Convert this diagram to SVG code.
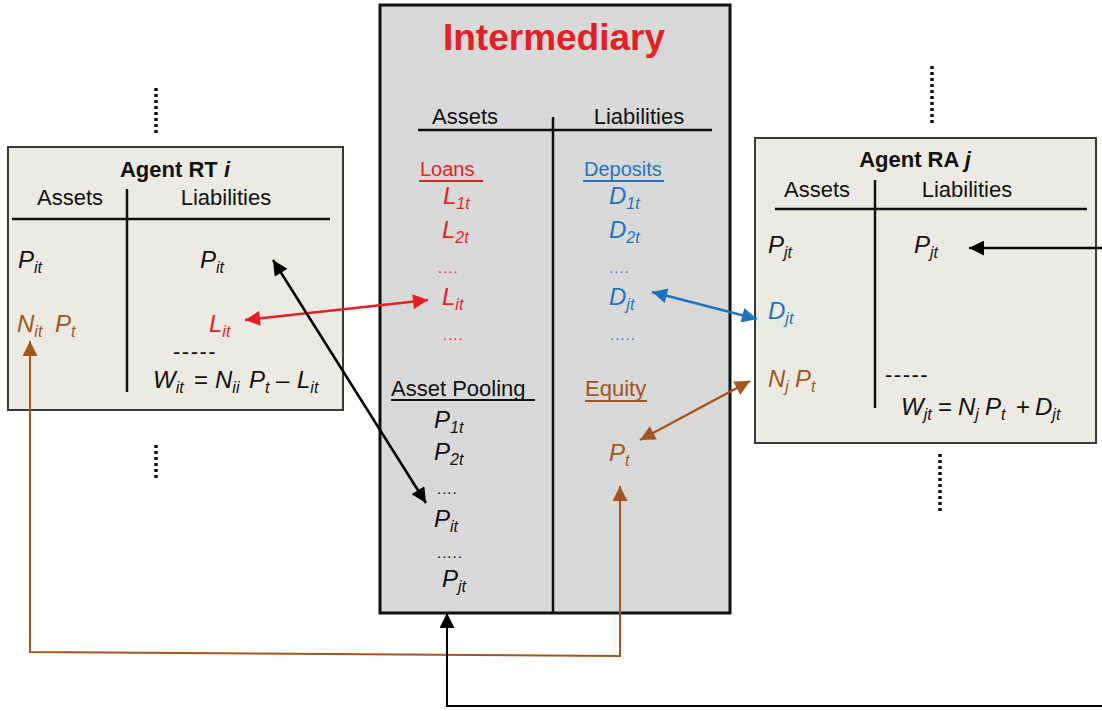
<svg xmlns="http://www.w3.org/2000/svg" width="1102" height="711" viewBox="0 0 1102 711">
<style>
text{font-family:"Liberation Sans",Arial,Helvetica,sans-serif;}
.h{font-size:22px;fill:#111;}
.hb{font-size:22px;font-weight:bold;fill:#111;}
.v{font-size:24px;font-style:italic;fill:#111;}
.s{font-size:16px;}
.red{fill:#e41f26;}
.blue{fill:#1f74bf;}
.org{fill:#a3561f;}
.dots{font-size:15px;letter-spacing:1px;}
.dash{font-size:22px;letter-spacing:1.5px;fill:#111;}
.box{fill:#ecebe3;stroke:#3a3a3a;stroke-width:2;}
.ibox{fill:#d9d9d9;stroke:#111;stroke-width:3;}
.rule{stroke:#111;stroke-width:2.5;fill:none;}
.dot{stroke:#111;stroke-width:3.5;stroke-dasharray:3 3;fill:none;}
</style>
<defs>
<marker id="mk" viewBox="0 0 10 10" refX="10" refY="5" markerWidth="18" markerHeight="15" markerUnits="userSpaceOnUse" orient="auto-start-reverse"><path d="M0,0L10,5L0,10z" fill="#000"/></marker>
<marker id="mr" viewBox="0 0 10 10" refX="10" refY="5" markerWidth="18" markerHeight="15" markerUnits="userSpaceOnUse" orient="auto-start-reverse"><path d="M0,0L10,5L0,10z" fill="#e41f26"/></marker>
<marker id="mb" viewBox="0 0 10 10" refX="10" refY="5" markerWidth="18" markerHeight="15" markerUnits="userSpaceOnUse" orient="auto-start-reverse"><path d="M0,0L10,5L0,10z" fill="#1f74bf"/></marker>
<marker id="mo" viewBox="0 0 10 10" refX="10" refY="5" markerWidth="18" markerHeight="15" markerUnits="userSpaceOnUse" orient="auto-start-reverse"><path d="M0,0L10,5L0,10z" fill="#a3561f"/></marker>
</defs>
<rect width="1102" height="711" fill="#fff"/>

<!-- dotted continuation marks -->
<g id="dots-marks">
<line class="dot" x1="156" y1="88" x2="156" y2="133"/>
<line class="dot" x1="156" y1="445" x2="156" y2="480"/>
<line class="dot" x1="932" y1="66" x2="932" y2="123"/>
<line class="dot" x1="940" y1="454" x2="940" y2="511"/>
</g>

<!-- Intermediary -->
<g id="intermediary">
<rect class="ibox" x="380" y="5" width="350" height="608"/>
<text x="554" y="50" text-anchor="middle" style="font-size:37px;font-weight:bold;fill:#e41f26">Intermediary</text>
<text class="h" x="465" y="124" text-anchor="middle">Assets</text>
<text class="h" x="639" y="124" text-anchor="middle">Liabilities</text>
<line class="rule" x1="418" y1="130" x2="712" y2="130"/>
<line class="rule" x1="553" y1="117" x2="553" y2="613"/>
<text class="h red" x="420" y="176" style="font-size:20px">Loans</text>
<line x1="419" y1="181" x2="483" y2="181" stroke="#e41f26" stroke-width="2"/>
<text class="h blue" x="584" y="176" style="font-size:20px">Deposits</text>
<line x1="583" y1="181" x2="664" y2="181" stroke="#1f74bf" stroke-width="2"/>
<text class="v red" x="443" y="204">L<tspan class="s" dy="5">1t</tspan></text>
<text class="v red" x="442" y="238">L<tspan class="s" dy="5">2t</tspan></text>
<text class="dots red" x="438" y="273">....</text>
<text class="v red" x="442" y="305">L<tspan class="s" dy="5">it</tspan></text>
<text class="dots red" x="443" y="340">....</text>
<text class="v blue" x="609" y="204">D<tspan class="s" dy="5">1t</tspan></text>
<text class="v blue" x="609" y="238">D<tspan class="s" dy="5">2t</tspan></text>
<text class="dots blue" x="609" y="273">....</text>
<text class="v blue" x="609" y="305">D<tspan class="s" dy="5">jt</tspan></text>
<text class="dots blue" x="610" y="340">.....</text>
<text class="h" x="391" y="396">Asset Pooling</text>
<line x1="391" y1="400" x2="535" y2="400" stroke="#111" stroke-width="2"/>
<text class="h org" x="585" y="396">Equity</text>
<line x1="585" y1="401" x2="647" y2="401" stroke="#a3561f" stroke-width="2"/>
<text class="v" x="434" y="428">P<tspan class="s" dy="5">1t</tspan></text>
<text class="v" x="434" y="460">P<tspan class="s" dy="5">2t</tspan></text>
<text class="dots" x="437" y="494">....</text>
<text class="v" x="434" y="527">P<tspan class="s" dy="5">it</tspan></text>
<text class="dots" x="437" y="558">.....</text>
<text class="v" x="442" y="587">P<tspan class="s" dy="5">jt</tspan></text>
<text class="v org" x="609" y="461">P<tspan class="s" dy="5">t</tspan></text>
</g>

<!-- Agent RT i -->
<g id="agent-rt">
<rect class="box" x="8" y="147" width="335" height="263"/>
<text class="hb" x="175" y="177" text-anchor="middle">Agent RT <tspan font-style="italic">i</tspan></text>
<text class="h" x="70" y="205" text-anchor="middle">Assets</text>
<text class="h" x="226" y="205" text-anchor="middle">Liabilities</text>
<line class="rule" x1="12" y1="219" x2="330" y2="219"/>
<line class="rule" x1="127" y1="189" x2="127" y2="392"/>
<text class="v" x="18" y="268">P<tspan class="s" dy="5">it</tspan></text>
<text class="v" x="200" y="268">P<tspan class="s" dy="5">it</tspan></text>
<text class="v org" x="17" y="332">N<tspan class="s" dy="5">it</tspan><tspan dy="-5" x="55">P</tspan><tspan class="s" dy="5">t</tspan></text>
<text class="v red" x="209" y="332">L<tspan class="s" dy="5">it</tspan></text>
<text class="dash" x="173" y="359">-----</text>
<text class="v" y="388"><tspan x="153">W</tspan><tspan class="s" dy="5">it</tspan><tspan dy="-5" x="194" font-style="normal">=</tspan><tspan x="215">N</tspan><tspan class="s" dy="5">ii</tspan><tspan dy="-5" x="249">P</tspan><tspan class="s" dy="5">t</tspan><tspan dy="-5" x="276" font-style="normal">–</tspan><tspan x="297">L</tspan><tspan class="s" dy="5">it</tspan></text>
</g>

<!-- Agent RA j -->
<g id="agent-ra">
<rect class="box" x="755" y="138" width="341" height="305"/>
<text class="hb" x="915" y="167" text-anchor="middle">Agent RA <tspan font-style="italic">j</tspan></text>
<text class="h" x="817" y="197" text-anchor="middle">Assets</text>
<text class="h" x="967" y="197" text-anchor="middle">Liabilities</text>
<line class="rule" x1="775" y1="209" x2="1087" y2="209"/>
<line class="rule" x1="875" y1="180" x2="875" y2="408"/>
<text class="v" x="768" y="253">P<tspan class="s" dy="5">jt</tspan></text>
<text class="v" x="914" y="253">P<tspan class="s" dy="5">jt</tspan></text>
<text class="v blue" x="768" y="319">D<tspan class="s" dy="5">jt</tspan></text>
<text class="v org" x="768" y="387">N<tspan class="s" dy="5">j</tspan><tspan dy="-5" x="795">P</tspan><tspan class="s" dy="5">t</tspan></text>
<text class="dash" x="885" y="382">-----</text>
<text class="v" y="415"><tspan x="901">W</tspan><tspan class="s" dy="5">jt</tspan><tspan dy="-5" x="938" font-style="normal">=</tspan><tspan x="958">N</tspan><tspan class="s" dy="5">j</tspan><tspan dy="-5" x="985">P</tspan><tspan class="s" dy="5">t</tspan><tspan dy="-5" x="1016" font-style="normal">+</tspan><tspan x="1035">D</tspan><tspan class="s" dy="5">jt</tspan></text>
</g>

<!-- connectors -->
<g id="connectors" fill="none">
<line x1="245" y1="320" x2="428" y2="300" stroke="#e41f26" stroke-width="2.5" marker-start="url(#mr)" marker-end="url(#mr)"/>
<line x1="273" y1="260" x2="426" y2="503" stroke="#000" stroke-width="2.5" marker-start="url(#mk)" marker-end="url(#mk)"/>
<line x1="652" y1="292" x2="757" y2="319" stroke="#1f74bf" stroke-width="2.5" marker-start="url(#mb)" marker-end="url(#mb)"/>
<line x1="640" y1="440" x2="750" y2="381" stroke="#a3561f" stroke-width="2.5" marker-start="url(#mo)" marker-end="url(#mo)"/>
<polyline points="620,486 620,656 30,652 30,341" stroke="#a3561f" stroke-width="2" marker-start="url(#mo)" marker-end="url(#mo)"/>
<polyline points="1102,706 447,706 447,613" stroke="#000" stroke-width="2" marker-end="url(#mk)"/>
<line x1="1102" y1="248" x2="969" y2="248" stroke="#000" stroke-width="2.5" marker-end="url(#mk)"/>
</g>
</svg>
